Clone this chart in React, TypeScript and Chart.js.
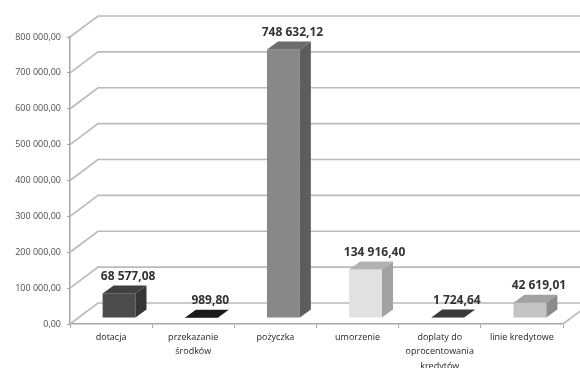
import React, { useEffect, useRef } from "react";
import { Chart, registerables } from "chart.js";

Chart.register(...registerables);

// Chart data
const categories: (string | string[])[] = [
  "dotacja",
  ["przekazanie", "środków"],
  "pożyczka",
  "umorzenie",
  ["doplaty do", "oprocentowania", "kredytów"],
  "linie kredytowe",
];
const amounts = [68577.08, 989.8, 748632.12, 134916.4, 1724.64, 42619.01];
const axisMax = 800000;
const axisStep = 100000;

// Face shades per bar: front, top, side
const frontShades = ["#4b4b4b", "#1c1c1c", "#888888", "#e1e1e1", "#424242", "#c3c3c3"];
const topShades = ["#404040", "#1a1a1a", "#6c6c6c", "#b2b2b2", "#3a3a3a", "#a2a2a2"];
const sideShades = ["#363636", "#141414", "#5d5d5d", "#a2a2a2", "#333333", "#8c8c8c"];

const FONT = "'Open Sans', 'DejaVu Sans', sans-serif";

// 3D projection offsets
const WALL_DX = 28;
const WALL_DY = -21;
const PLANE_DX = 8;
const PLANE_DY = -6;
const DEPTH_DX = 11;
const DEPTH_DY = -8;

function formatPl(v: number): string {
  const [intPart, dec] = v.toFixed(2).split(".");
  const grouped = intPart.replace(/\B(?=(\d{3})+(?!\d))/g, " ");
  return `${grouped},${dec}`;
}

const box3dPlugin = {
  id: "box3d",
  beforeDatasetsDraw(chart: any) {
    const { ctx, chartArea, scales } = chart;
    const y = scales.y;
    ctx.save();
    ctx.strokeStyle = "#bababa";
    ctx.lineWidth = 1.6;
    // back wall grid lines with their receding edges
    y.ticks.forEach((t: any) => {
      const py = y.getPixelForValue(t.value);
      ctx.beginPath();
      ctx.moveTo(chartArea.left, py);
      ctx.lineTo(chartArea.left + WALL_DX, py + WALL_DY);
      ctx.lineTo(chartArea.right + WALL_DX, py + WALL_DY);
      ctx.stroke();
    });
    // right edge of the floor
    ctx.beginPath();
    ctx.moveTo(chartArea.right, chartArea.bottom);
    ctx.lineTo(chartArea.right + WALL_DX, chartArea.bottom + WALL_DY);
    ctx.stroke();
    ctx.restore();
  },
  afterDatasetsDraw(chart: any) {
    const { ctx } = chart;
    const meta = chart.getDatasetMeta(0);
    ctx.save();
    meta.data.forEach((el: any, i: number) => {
      const { x, y, base, width } = el.getProps(["x", "y", "base", "width"], true);
      const left = x - width / 2 + PLANE_DX;
      const right = left + width;
      const top = y + PLANE_DY;
      const bottom = base + PLANE_DY;

      // front face
      ctx.fillStyle = frontShades[i];
      ctx.fillRect(left, top, width, bottom - top);

      // top face
      ctx.fillStyle = topShades[i];
      ctx.beginPath();
      ctx.moveTo(left, top);
      ctx.lineTo(left + DEPTH_DX, top + DEPTH_DY);
      ctx.lineTo(right + DEPTH_DX, top + DEPTH_DY);
      ctx.lineTo(right, top);
      ctx.closePath();
      ctx.fill();

      // side face
      ctx.fillStyle = sideShades[i];
      ctx.beginPath();
      ctx.moveTo(right, top);
      ctx.lineTo(right + DEPTH_DX, top + DEPTH_DY);
      ctx.lineTo(right + DEPTH_DX, bottom + DEPTH_DY);
      ctx.lineTo(right, bottom);
      ctx.closePath();
      ctx.fill();

      // value label
      ctx.fillStyle = "#333333";
      ctx.font = `bold 12px ${FONT}`;
      ctx.textAlign = "center";
      ctx.textBaseline = "middle";
      ctx.fillText(formatPl(amounts[i]), x + 17, top + DEPTH_DY - 9);
    });
    ctx.restore();
  },
};

export default function App() {
  const canvasRef = useRef<HTMLCanvasElement | null>(null);

  useEffect(() => {
    if (!canvasRef.current) return;
    const chart = new Chart(canvasRef.current, {
      type: "bar",
      data: {
        labels: categories,
        datasets: [
          {
            data: amounts,
            backgroundColor: "rgba(0,0,0,0)",
            borderWidth: 0,
            categoryPercentage: 1,
            barPercentage: 0.4,
          },
        ],
      },
      options: {
        responsive: false,
        animation: false,
        layout: { padding: { top: 37, right: 17, left: 0, bottom: 0 } },
        plugins: {
          legend: { display: false },
          tooltip: { enabled: false },
        },
        scales: {
          x: {
            grid: {
              offset: true,
              drawOnChartArea: false,
              drawTicks: true,
              tickLength: 4,
              color: "#a6a6a6",
            },
            border: { display: true, color: "#a6a6a6", width: 1.5 },
            ticks: {
              color: "#262626",
              font: { family: FONT, size: 9, lineHeight: 1.6 },
              padding: 2,
              maxRotation: 0,
              autoSkip: false,
            },
            afterFit(scale: any) {
              scale.height = 44;
            },
          },
          y: {
            min: 0,
            max: axisMax,
            grid: {
              drawOnChartArea: false,
              drawTicks: true,
              tickLength: 3,
              color: "#a6a6a6",
            },
            border: { display: true, color: "#a6a6a6", width: 1.5 },
            ticks: {
              stepSize: axisStep,
              color: "#4d4d4d",
              font: { family: FONT, size: 9 },
              padding: 6,
              callback: (v: any) => formatPl(Number(v)),
            },
            afterFit(scale: any) {
              scale.width = 70;
            },
          },
        },
      },
      plugins: [box3dPlugin],
    } as any);
    return () => chart.destroy();
  }, []);

  return (
    <div style={{ position: "fixed", left: 0, top: 0, width: 580, height: 368, background: "#fff" }}>
      <canvas ref={canvasRef} width={580} height={368} style={{ display: "block" }} />
    </div>
  );
}
